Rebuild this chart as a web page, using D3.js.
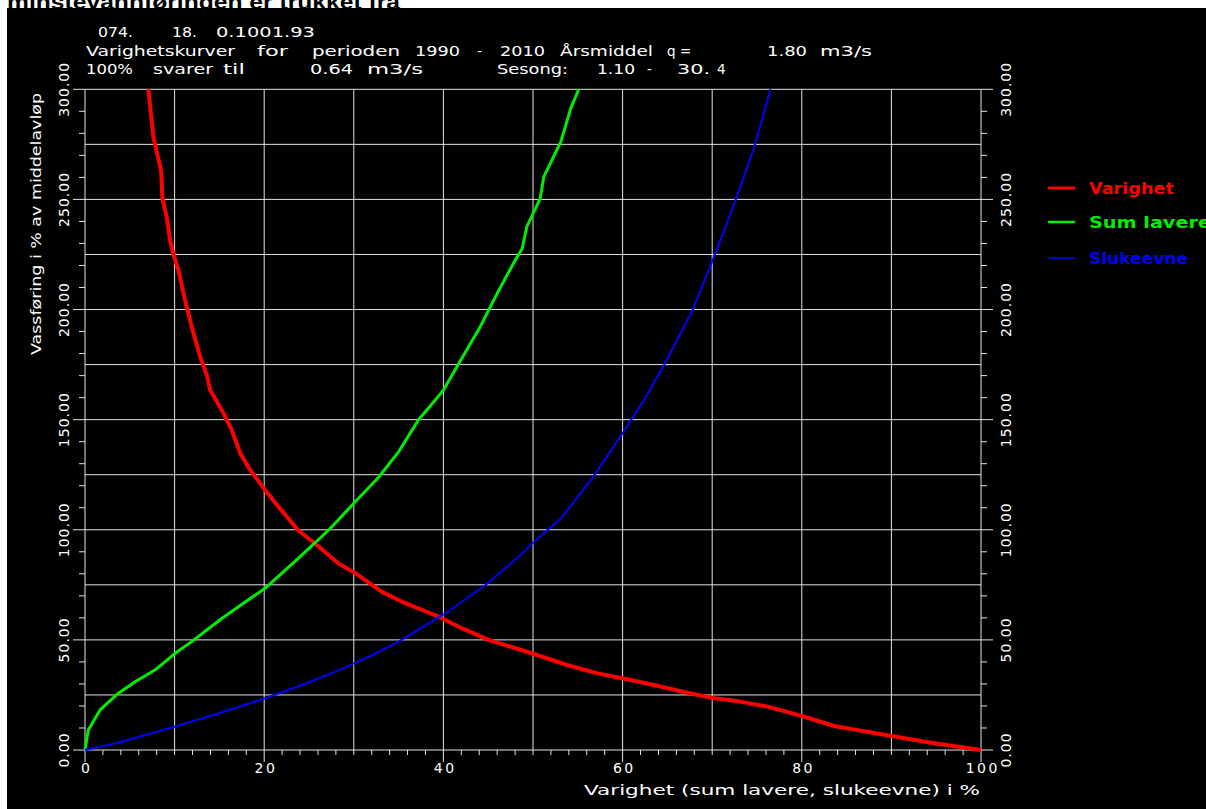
<!DOCTYPE html>
<html>
<head>
<meta charset="utf-8">
<script src="https://cdn.jsdelivr.net/npm/d3@7"></script>
<style>
  body { margin: 0; background: #ffffff; }
  svg { display: block; }
  text { font-family: "DejaVu Sans", sans-serif; }
</style>
</head>
<body>
<svg id="chart" width="1206" height="809"></svg>
<script>
// Duration curves: [percent of time, flow in % of mean flow]
const varighet = [
  [7.07, 300], [7.63, 278.4], [8.0, 271.6], [8.49, 263.2], [8.64, 250.4], [9.12, 242],
  [9.5, 231.5], [9.87, 225], [10.43, 217.9], [11.17, 204.2], [11.92, 192.1], [12.85, 178.5],
  [13.6, 170.2], [13.97, 163.4], [14.53, 159.6], [15.27, 154.3], [16.39, 145.2], [17.32, 134.7],
  [18.44, 127.1], [20.1, 118], [21.6, 110.4], [23.8, 99.8], [26.1, 92.3], [28.3, 84.7],
  [30.2, 80.2], [33.1, 71.9], [35.4, 67.3], [39.5, 60.5], [42.1, 55.2], [45.1, 49.9],
  [50.1, 43.6], [53.8, 38.6], [57.2, 34.8], [60.1, 32.5], [63.5, 29.5], [67.2, 26],
  [70.2, 23.5], [72.8, 22.2], [76.2, 19.7], [80.3, 15.1], [83.6, 10.9], [90, 6.4],
  [94.4, 3.3], [100, 0]
];
const sumLavere = [
  [0, 0], [0.37, 9.1], [1.68, 18.2], [3.7, 25.7], [5.6, 31], [7.8, 36.3], [10.06, 43.9],
  [11.9, 49.2], [15.3, 59.8], [18.2, 68.1], [20.1, 73.4], [23.8, 87], [27.2, 99.9],
  [30.0, 112], [32.8, 124], [35.0, 135.4], [37.2, 149.8], [39.1, 158.9], [40.0, 163.4],
  [41.5, 174], [44.1, 192.1], [46.0, 207.3], [47.9, 221.6], [48.8, 227.7], [49.3, 237.5],
  [50.8, 250.4], [51.2, 260.2], [53.1, 276.1], [53.6, 282.9], [54.2, 291.2], [55.1, 300]
];
const slukeevne = [
  [0, 0], [3.7, 3.3], [9.3, 9.8], [14.9, 16.6], [20.1, 23.5], [24.2, 29.5], [27.9, 35.5],
  [31.7, 42.4], [35, 49.2], [40.2, 62], [44.7, 74.9], [48.6, 88.5], [50.1, 94.5],
  [53.1, 105.1], [56.6, 123.3], [60.1, 144.5], [62.4, 158.9], [64.6, 174.7], [67.8, 199.7],
  [70.2, 223.9], [72.6, 249.6], [74.7, 273.8], [76.5, 300]
];

const xTickLabels = [0, 20, 40, 60, 80, 100];
const yTickLabels = [0, 50, 100, 150, 200, 250, 300];
const seriesNames = ["Varighet", "Sum lavere", "Slukeevne"];
const xTitle = "Varighet (sum lavere, slukeevne) i %";
const yTitle = "Vassføring i % av middelavløp";
const headerText = "minstevannføringen er trukket fra";
const titleWords = [
  ["074.", "18.", "0.1001.93"],
  ["Varighetskurver", "for", "perioden", "1990", "-", "2010", "Årsmiddel", "q", "=", "1.80", "m3/s"],
  ["100%", "svarer", "til", "0.64", "m3/s", "Sesong:", "1.10", "-", "30.", "4"]
];

// Layout: start/end x of each header word, and baseline of each line
const titleSpans = [
  [[98, 133], [172, 197], [216, 315]],
  [[86, 235], [257, 288], [312, 400], [415, 460], [477, 487], [500, 545], [560, 653],
   [667, 677], [680, 703], [767, 807], [820, 872]],
  [[86, 133], [153, 213], [223, 245], [310, 353], [367, 423], [497, 568], [597, 635],
   [647, 662], [677, 710], [717, 728]]
];
const titleBaselines = [37, 56, 74];

const svg = d3.select("#chart");
const W = 1206, H = 809;

// Header line above the plot frame (mostly hidden by it)
svg.append("text")
  .attr("x", 7).attr("y", 9)
  .attr("textLength", 393).attr("lengthAdjust", "spacingAndGlyphs")
  .style("font-family", "'Liberation Sans', Arial, sans-serif")
  .style("font-weight", "bold").style("font-size", "20px")
  .attr("fill", "#000")
  .text(headerText);

// Black plotting frame
svg.append("rect").attr("x", 7).attr("y", 8).attr("width", W - 7).attr("height", H - 8).attr("fill", "#000");

const x = d3.scaleLinear().domain([0, 100]).range([85, 981]);
const y = d3.scaleLinear().domain([0, 300]).range([750, 89.3]);

const gridColor = "#e2e2e2";
const g = svg.append("g");

// Horizontal grid every 25, labelled ones reach past both axes
d3.range(0, 301, 25).forEach(v => {
  const major = v % 50 === 0;
  g.append("line")
    .attr("x1", major ? x(0) - 12 : x(0)).attr("x2", major ? x(100) + 12 : x(100))
    .attr("y1", y(v)).attr("y2", y(v))
    .attr("stroke", gridColor).attr("stroke-width", 1);
});

// Minor y ticks every 10 on both sides
d3.range(0, 301, 10).filter(v => v % 50 !== 0).forEach(v => {
  g.append("line").attr("x1", x(0) - 6).attr("x2", x(0)).attr("y1", y(v)).attr("y2", y(v))
    .attr("stroke", gridColor);
  g.append("line").attr("x1", x(100)).attr("x2", x(100) + 6).attr("y1", y(v)).attr("y2", y(v))
    .attr("stroke", gridColor);
});

// Vertical grid every 10 %, labelled ones reach further down
d3.range(0, 101, 10).forEach(v => {
  const major = v % 20 === 0;
  g.append("line")
    .attr("x1", x(v)).attr("x2", x(v))
    .attr("y1", y(300)).attr("y2", y(0) + (major ? 12 : 5))
    .attr("stroke", gridColor).attr("stroke-width", 1);
});

// Minor x ticks every 2 %
d3.range(0, 101, 2).filter(v => v % 10 !== 0).forEach(v => {
  g.append("line").attr("x1", x(v)).attr("x2", x(v)).attr("y1", y(0)).attr("y2", y(0) + 5)
    .attr("stroke", gridColor);
});

// X tick labels
const xAxis = d3.axisBottom(x).tickValues(xTickLabels).tickSize(0).tickPadding(13).tickFormat(d3.format("d"));
const xg = svg.append("g").attr("transform", `translate(0,${y(0)})`).call(xAxis);
xg.select(".domain").remove();
xg.selectAll("text")
  .attr("fill", "#fff")
  .style("font-family", "'DejaVu Sans', sans-serif")
  .style("font-size", "14px")
  .style("letter-spacing", "2.5px")
  .attr("dx", "1.25px");

// Y tick labels, rotated, on both sides
const yFmt = d3.format(".2f");
[x(0) - 21.5, x(100) + 24.5].forEach(cx => {
  svg.append("g").selectAll("text").data(yTickLabels).join("text")
    .attr("transform", d => `translate(${cx},${y(d)}) rotate(-90)`)
    .attr("text-anchor", "middle")
    .attr("dominant-baseline", "central")
    .attr("fill", "#fff")
    .style("font-size", "14px")
    .style("letter-spacing", "1px")
    .text(d => yFmt(d));
});

// Curves
const line = d3.line().x(d => x(d[0])).y(d => y(d[1]));
const series = [
  { data: varighet, color: "#ff0000", width: 4, legendWidth: 3 },
  { data: sumLavere, color: "#00ee00", width: 3, legendWidth: 2.5 },
  { data: slukeevne, color: "#0000ff", width: 2, legendWidth: 1.6 }
];
svg.append("g").selectAll("path").data(series).join("path")
  .attr("d", d => line(d.data))
  .attr("fill", "none")
  .attr("stroke", d => d.color)
  .attr("stroke-width", d => d.width)
  .attr("stroke-linejoin", "round");

// Legend
const legendY = [188, 222, 258];
const legendTextLen = [85, 122, 99];
const lg = svg.append("g");
series.forEach((s, i) => {
  lg.append("line").attr("x1", 1048).attr("x2", 1075).attr("y1", legendY[i]).attr("y2", legendY[i])
    .attr("stroke", s.color).attr("stroke-width", s.legendWidth);
  lg.append("text").attr("x", 1089).attr("y", legendY[i] + 5.5)
    .attr("fill", s.color)
    .attr("textLength", legendTextLen[i]).attr("lengthAdjust", "spacingAndGlyphs")
    .style("font-weight", "bold").style("font-size", "15px")
    .text(seriesNames[i]);
});

// Header lines
titleWords.forEach((words, li) => {
  words.forEach((w, wi) => {
    const [x0, x1] = titleSpans[li][wi];
    const t = svg.append("text")
      .attr("x", x0).attr("y", titleBaselines[li])
      .attr("fill", "#fff")
      .style("font-size", "13.5px")
      .text(w);
    if (w.length > 1) t.attr("textLength", x1 - x0).attr("lengthAdjust", "spacingAndGlyphs");
  });
});

// Axis titles
svg.append("text")
  .attr("x", 980).attr("y", 795)
  .attr("text-anchor", "end")
  .attr("textLength", 396).attr("lengthAdjust", "spacingAndGlyphs")
  .attr("fill", "#fff").style("font-size", "14px")
  .text(xTitle);

svg.append("text")
  .attr("transform", "translate(36,93) rotate(-90)")
  .attr("text-anchor", "end")
  .attr("dominant-baseline", "central")
  .attr("textLength", 262).attr("lengthAdjust", "spacingAndGlyphs")
  .attr("fill", "#fff").style("font-size", "14px")
  .text(yTitle);
</script>
</body>
</html>
